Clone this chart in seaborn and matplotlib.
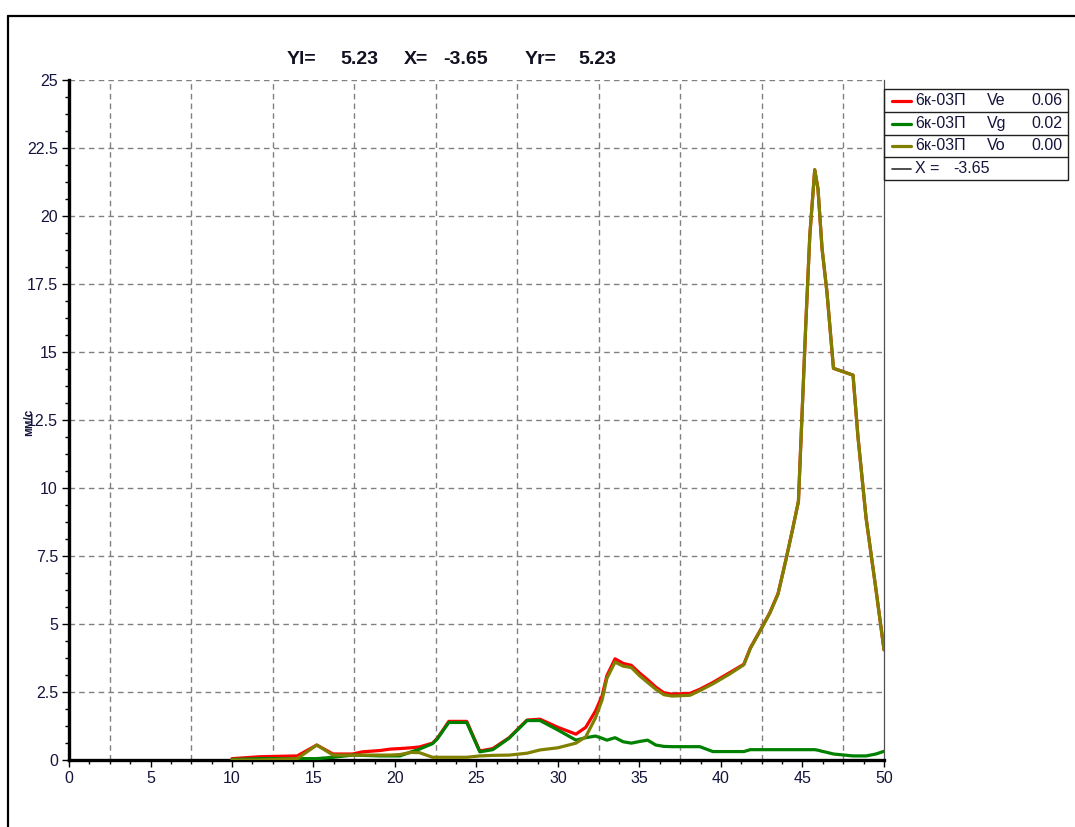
import numpy as np
import pandas as pd
import matplotlib
matplotlib.use("Agg")
import matplotlib.pyplot as plt
from matplotlib.lines import Line2D
from matplotlib.patches import Rectangle
from matplotlib.ticker import MultipleLocator, FuncFormatter
import seaborn as sns

# Frequency axis (Hz) and vibration velocity spectra (mm/s)
freq = [10.0, 11.7, 14.0, 15.2, 16.2, 17.4, 18.0, 19.1, 19.7, 20.3, 21.0, 21.5,
        22.3, 22.6, 23.3, 24.4, 25.2, 26.0, 27.0, 28.1, 28.9, 30.0, 31.1, 31.7,
        32.3, 32.7, 33.0, 33.5, 34.0, 34.5, 35.0, 35.5, 36.0, 36.5, 37.0, 38.1,
        38.7, 39.5, 40.5, 41.4, 41.8, 42.5, 43.0, 43.5, 44.0, 44.4, 44.75, 45.2,
        45.45, 45.75, 45.95, 46.2, 46.5, 46.9, 48.1, 48.4, 48.9, 49.5, 50.0]

ve = [0.05, 0.12, 0.15, 0.55, 0.22, 0.22, 0.30, 0.35, 0.40, 0.42, 0.45, 0.48,
      0.62, 0.80, 1.42, 1.42, 0.33, 0.42, 0.82, 1.47, 1.50, 1.20, 0.95, 1.20,
      1.80, 2.35, 3.10, 3.72, 3.55, 3.48, 3.20, 2.95, 2.68, 2.47, 2.42, 2.45,
      2.60, 2.85, 3.20, 3.52, 4.12, 4.87, 5.42, 6.12, 7.41, 8.51, 9.51, 16.0,
      19.3, 21.7, 21.0, 18.8, 17.2, 14.4, 14.15, 11.9, 8.9, 6.3, 4.05]

vg = [0.02, 0.05, 0.05, 0.05, 0.10, 0.18, 0.17, 0.15, 0.15, 0.15, 0.30, 0.40,
      0.60, 0.78, 1.38, 1.38, 0.30, 0.38, 0.80, 1.45, 1.45, 1.10, 0.73, 0.82,
      0.88, 0.80, 0.73, 0.82, 0.67, 0.62, 0.68, 0.73, 0.55, 0.50, 0.49, 0.49,
      0.49, 0.31, 0.31, 0.31, 0.38, 0.38, 0.38, 0.38, 0.38, 0.38, 0.38, 0.38,
      0.38, 0.38, 0.36, 0.32, 0.28, 0.22, 0.15, 0.15, 0.15, 0.22, 0.32]

vo = [0.00, 0.00, 0.05, 0.55, 0.18, 0.18, 0.18, 0.18, 0.18, 0.20, 0.28, 0.27,
      0.10, 0.10, 0.10, 0.10, 0.15, 0.17, 0.18, 0.25, 0.37, 0.45, 0.62, 0.85,
      1.55, 2.20, 3.00, 3.60, 3.45, 3.40, 3.10, 2.85, 2.60, 2.40, 2.35, 2.38,
      2.55, 2.80, 3.15, 3.50, 4.10, 4.85, 5.40, 6.10, 7.40, 8.50, 9.50, 16.0,
      19.3, 21.7, 21.0, 18.8, 17.2, 14.4, 14.15, 11.9, 8.9, 6.3, 4.05]

series_names = ["Ve", "Vg", "Vo"]
series_rms = ["0.06", "0.02", "0.00"]
series_colors = ["#ff0000", "#008000", "#808000"]
sensor = "6к-03П"
cursor_x = "-3.65"
y_left = "5.23"
y_right = "5.23"

W, H = 1075, 827
sns.set_theme(style="white")
plt.rcParams["font.family"] = ["Liberation Sans", "DejaVu Sans"]

fig = plt.figure(figsize=(W / 100, H / 100), dpi=100)
fig.patch.set_facecolor("white")


def fx(px):
    return px / W


def fy(py):
    return 1 - py / H


ax = fig.add_axes([fx(69), fy(760), (884 - 69) / W, (760 - 80) / H])

df = pd.DataFrame({
    "freq": freq * 3,
    "v": ve + vg + vo,
    "series": [n for n in series_names for _ in freq],
})
sns.lineplot(data=df, x="freq", y="v", hue="series", hue_order=series_names,
             palette=series_colors, sort=False, estimator=None,
             linewidth=2.3, legend=False, ax=ax, zorder=3)

ax.set_xlim(0, 50)
ax.set_ylim(0, 25)
ax.set_xlabel("")
ax.set_ylabel("")
ax.xaxis.set_major_locator(MultipleLocator(5))
ax.xaxis.set_minor_locator(MultipleLocator(1.25))
ax.yaxis.set_major_locator(MultipleLocator(2.5))
ax.yaxis.set_minor_locator(MultipleLocator(0.625))
fmt = FuncFormatter(lambda v, p: f"{v:g}")
ax.xaxis.set_major_formatter(fmt)
ax.yaxis.set_major_formatter(fmt)

# dashed grid: horizontal at every labelled level, vertical halfway between labels
grid_kw = dict(color="#808080", linewidth=1.0, linestyle=(0, (4, 3)), zorder=1)
ax.grid(axis="y", which="major", **grid_kw)
for gx in np.arange(2.5, 50, 5):
    ax.axvline(gx, **grid_kw)
ax.set_axisbelow(True)

for side in ("left", "bottom"):
    ax.spines[side].set_color("black")
    ax.spines[side].set_linewidth(2.4)
ax.spines["top"].set_visible(False)
ax.spines["right"].set_color("#505050")
ax.spines["right"].set_linewidth(0.9)

tick_color = "#14143c"
ax.tick_params(axis="both", which="both", direction="out", bottom=True, left=True,
               top=False, right=False, color="black", width=1)
ax.tick_params(axis="both", which="major", length=5, labelsize=11.5,
               labelcolor=tick_color, pad=3)
ax.tick_params(axis="both", which="minor", length=3)

# y-axis unit label
fig.text(fx(29), fy(422), "мм/с", rotation=90, ha="center", va="center",
         fontsize=8.5, fontweight="bold", color=tick_color)

# cursor readout above the plot
head = [(287, "Yl="), (340, y_left), (404, "X="), (443, cursor_x),
        (525, "Yr="), (578, y_right)]
for px, txt in head:
    fig.text(fx(px), fy(60), txt, ha="left", va="center", fontsize=14,
             fontweight="bold", color="#101020")

# outer panel frame
frame_kw = dict(color="black", linewidth=1.6, transform=fig.transFigure)
fig.add_artist(Line2D([fx(8), fx(8)], [fy(16), 0], **frame_kw))
fig.add_artist(Line2D([fx(8), 1], [fy(16), fy(16)], **frame_kw))

# legend table
lx0, lx1 = 884, 1068
rows = [89, 112, 135, 157, 180]
fig.add_artist(Rectangle((fx(lx0), fy(rows[-1])), (lx1 - lx0) / W,
                         (rows[-1] - rows[0]) / H, transform=fig.transFigure,
                         fill=False, edgecolor="#202020", linewidth=1.0))
for ry in rows[1:-1]:
    fig.add_artist(Line2D([fx(lx0), fx(lx1)], [fy(ry), fy(ry)], color="#202020",
                          linewidth=1.0, transform=fig.transFigure))

leg_font = dict(fontsize=11.5, color="#14143c", va="center")
entries = list(zip(series_colors, series_names, series_rms))
for i, (col, name, rms) in enumerate(entries):
    cy = (rows[i] + rows[i + 1]) / 2
    fig.add_artist(Line2D([fx(892), fx(911)], [fy(cy), fy(cy)], color=col,
                          linewidth=2.3, transform=fig.transFigure))
    fig.text(fx(915), fy(cy), sensor, ha="left", **leg_font)
    fig.text(fx(987), fy(cy), name, ha="left", **leg_font)
    fig.text(fx(1062), fy(cy), rms, ha="right", **leg_font)
cy = (rows[3] + rows[4]) / 2
fig.add_artist(Line2D([fx(892), fx(911)], [fy(cy), fy(cy)], color="#303030",
                      linewidth=1.2, transform=fig.transFigure))
fig.text(fx(915), fy(cy), "X =", ha="left", **leg_font)
fig.text(fx(953), fy(cy), cursor_x, ha="left", **leg_font)

fig.savefig("out.png", dpi=100)
